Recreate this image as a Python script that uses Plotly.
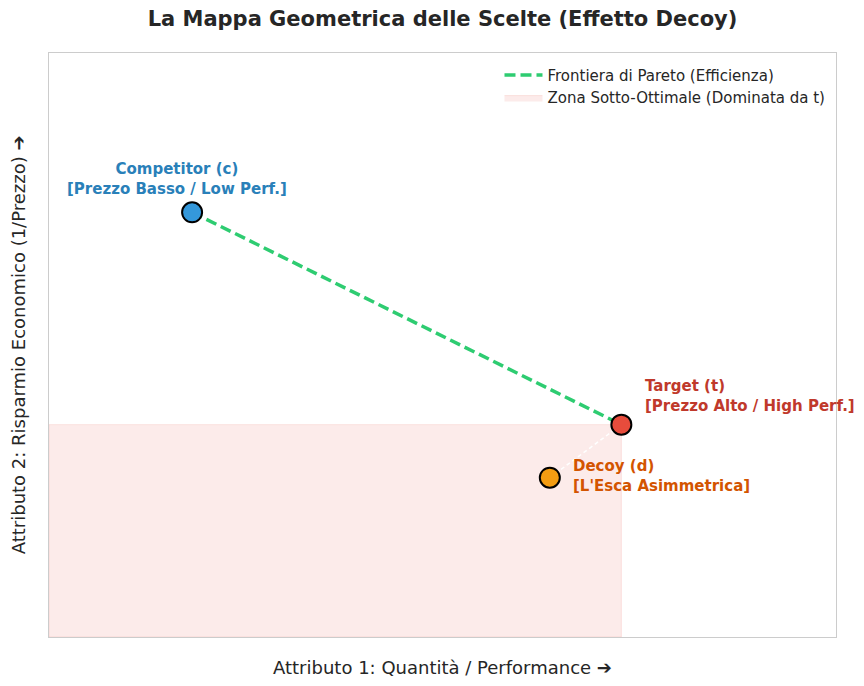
import plotly.graph_objects as go

# Data
names = ["Competitor (c)", "Target (t)", "Decoy (d)"]
subtitles = ["[Prezzo Basso / Low Perf.]", "[Prezzo Alto / High Perf.]", "[L'Esca Asimmetrica]"]
attr1 = [2, 8, 7]   # Quantità / Performance
attr2 = [8, 4, 3]   # Risparmio Economico
marker_colors = ["#3498db", "#e74c3c", "#f39c12"]
text_colors = ["#2980b9", "#c0392b", "#d35400"]
axis_range = [0, 11]

FONT = "DejaVu Sans"
fig = go.Figure()

# Dominated zone (below/left of target)
tx, ty = attr1[1], attr2[1]
fig.add_trace(go.Scatter(
    x=[0, tx, tx, 0, 0], y=[0, 0, ty, ty, 0],
    mode="lines", fill="toself",
    fillcolor="rgba(231,76,60,0.11)",
    line=dict(color="rgba(231,76,60,0.12)", width=1),
    name="Zona Sotto-Ottimale (Dominata da t)",
    hoverinfo="skip", legendrank=2,
))

# Pareto frontier
fig.add_trace(go.Scatter(
    x=[attr1[0], attr1[1]], y=[attr2[0], attr2[1]],
    mode="lines", line=dict(color="#2ecc71", width=3.5, dash="11px,5px"),
    name="Frontiera di Pareto (Efficienza)", legendrank=1,
))

# Decoy -> target link
fig.add_trace(go.Scatter(
    x=[attr1[2], attr1[1]], y=[attr2[2], attr2[1]],
    mode="lines", line=dict(color="white", width=1.5, dash="4px,3px"),
    showlegend=False, hoverinfo="skip",
))

# Points
fig.add_trace(go.Scatter(
    x=attr1, y=attr2, mode="markers",
    marker=dict(size=20, color=marker_colors, line=dict(color="black", width=2)),
    showlegend=False,
))

# Labels
shifts = [(-15, 33, "center"), (22, 29, "left"), (21, 2, "left")]
for i in range(3):
    xs, ys, al = shifts[i]
    fig.add_annotation(
        x=attr1[i], y=attr2[i], xref="x", yref="y",
        text=f"<b>{names[i]}<br>{subtitles[i]}</b>",
        showarrow=False, xshift=xs, yshift=ys,
        xanchor=al, yanchor="middle", align=al,
        font=dict(family=FONT, size=15, color=text_colors[i]),
    )

# Axis titles
fig.add_annotation(x=0.5, y=-0.052, xref="paper", yref="paper",
                   text="Attributo 1: Quantità / Performance ➔", showarrow=False,
                   xanchor="center", yanchor="middle",
                   font=dict(family=FONT, size=18, color="#262626"))
fig.add_annotation(x=-0.039, y=0.5, xref="paper", yref="paper",
                   text="Attributo 2: Risparmio Economico (1/Prezzo) ➔", showarrow=False,
                   textangle=-90, xanchor="center", yanchor="middle",
                   font=dict(family=FONT, size=18, color="#262626"))

fig.update_layout(
    width=864, height=686,
    margin=dict(l=49, r=28, t=53, b=49),
    paper_bgcolor="white", plot_bgcolor="white",
    title=dict(text="<b>La Mappa Geometrica delle Scelte (Effetto Decoy)</b>",
               x=0.5, xref="paper", xanchor="center", y=1 - 19/686, yanchor="middle",
               font=dict(family=FONT, size=21, color="#262626")),
    font=dict(family=FONT, color="#262626"),
    legend=dict(x=0.993, y=0.99, xanchor="right", yanchor="top",
                bgcolor="rgba(255,255,255,0.8)", borderwidth=0,
                font=dict(family=FONT, size=15, color="#262626"),
                tracegroupgap=0, itemwidth=38),
    showlegend=True,
)
fig.update_xaxes(range=axis_range, showticklabels=False, showgrid=False, zeroline=False,
                 ticks="", showline=True, linecolor="#cccccc", linewidth=1.2, mirror=True)
fig.update_yaxes(range=axis_range, showticklabels=False, showgrid=False, zeroline=False,
                 ticks="", showline=True, linecolor="#cccccc", linewidth=1.2, mirror=True)

fig.write_html("out.html")
